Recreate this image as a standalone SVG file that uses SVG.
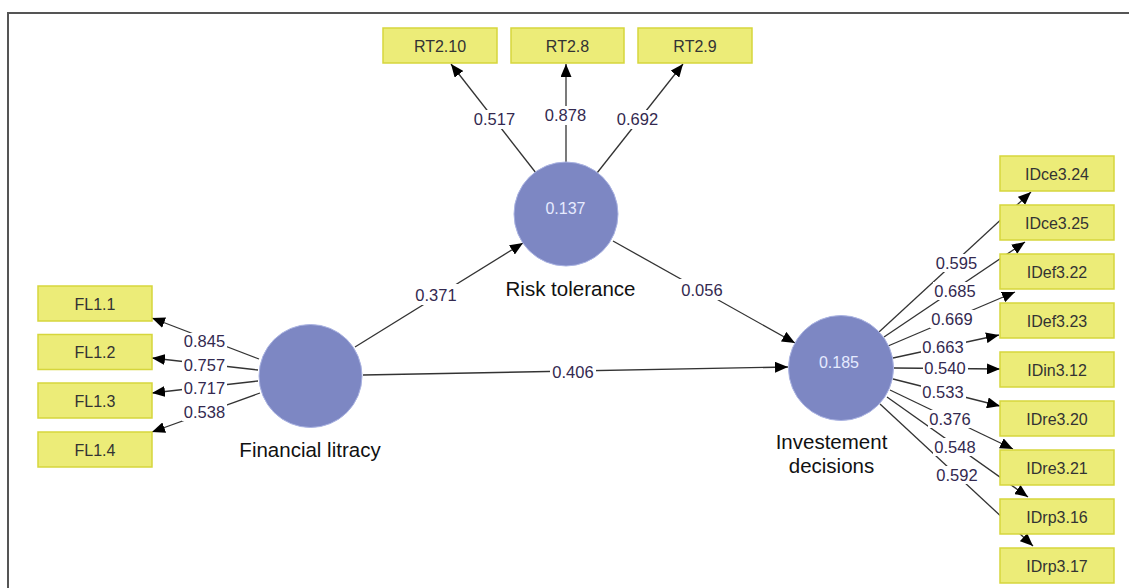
<svg xmlns="http://www.w3.org/2000/svg" width="1129" height="588" viewBox="0 0 1129 588">
<style>
.frame{fill:none;stroke:#555;stroke-width:2}
.box rect{fill:#ecec78;stroke:#d6d63c;stroke-width:1.5}
.box text{font-family:"Liberation Sans",Arial,sans-serif;font-size:16px;fill:#333;text-anchor:middle}
.lv circle{fill:#7d87c3;stroke:#aab3e2;stroke-width:1}
.val{font-family:"Liberation Sans",Arial,sans-serif;font-size:16px;fill:#e6ebff;text-anchor:middle}
.name{font-family:"Liberation Sans",Arial,sans-serif;font-size:20.5px;fill:#111;text-anchor:middle}
.conn line{stroke:#333;stroke-width:1.3;marker-end:url(#ah)}
.lbl rect{fill:#fff}
.lbl text{font-family:"Liberation Sans",Arial,sans-serif;font-size:16.5px;fill:#33294f;text-anchor:middle}
</style>
<defs>
<marker id="ah" markerUnits="userSpaceOnUse" markerWidth="13" markerHeight="11" refX="13" refY="5.5" orient="auto">
<path d="M0,0 L13,5.5 L0,11 Z" fill="#000"/>
</marker>
</defs>
<rect width="1129" height="588" fill="#fff"/>
<path class="frame" d="M8,588 V13 H1129"/>

<g id="connectors" class="conn">
<line x1="536" y1="173" x2="451" y2="64"/>
<line x1="566" y1="163" x2="566" y2="64"/>
<line x1="597" y1="173" x2="683" y2="64"/>
<line x1="259" y1="359" x2="152" y2="318"/>
<line x1="258" y1="370" x2="152" y2="358"/>
<line x1="258" y1="381" x2="152" y2="393"/>
<line x1="260" y1="393" x2="152" y2="432"/>
<line x1="355" y1="347" x2="523" y2="243"/>
<line x1="363" y1="375" x2="788" y2="367"/>
<line x1="613" y1="241" x2="795" y2="343"/>
<line x1="879" y1="332" x2="1031" y2="192"/>
<line x1="884" y1="337" x2="1025" y2="242"/>
<line x1="888" y1="346" x2="1015" y2="292"/>
<line x1="893" y1="358" x2="999" y2="335"/>
<line x1="894" y1="368" x2="1000" y2="369"/>
<line x1="893" y1="379" x2="1000" y2="406"/>
<line x1="890" y1="390" x2="1013" y2="449"/>
<line x1="887" y1="397" x2="1028" y2="497"/>
<line x1="880" y1="404" x2="1033" y2="546"/>
</g>

<g id="labels" class="lbl">
<rect x="472" y="110" width="45" height="19"/><text x="494.5" y="125">0.517</text>
<rect x="543" y="106" width="45" height="19"/><text x="565.5" y="121">0.878</text>
<rect x="615" y="110" width="45" height="19"/><text x="637.5" y="125">0.692</text>
<rect x="182" y="333" width="45" height="17"/><text x="204.5" y="347">0.845</text>
<rect x="182" y="357" width="45" height="17"/><text x="204.5" y="371">0.757</text>
<rect x="182" y="380" width="45" height="17"/><text x="204.5" y="394">0.717</text>
<rect x="182" y="404" width="45" height="17"/><text x="204.5" y="418">0.538</text>
<rect x="412" y="284" width="48" height="21"/><text x="436" y="301">0.371</text>
<rect x="550" y="363" width="46" height="18"/><text x="573" y="378">0.406</text>
<rect x="678" y="279" width="48" height="21"/><text x="702" y="296">0.056</text>
<rect x="934" y="254" width="45" height="18"/><text x="956.5" y="269">0.595</text>
<rect x="933" y="282" width="45" height="18"/><text x="955" y="297">0.685</text>
<rect x="930" y="310" width="45" height="18"/><text x="952" y="325">0.669</text>
<rect x="921" y="338" width="45" height="18"/><text x="943" y="353">0.663</text>
<rect x="923" y="360" width="45" height="17"/><text x="945" y="374">0.540</text>
<rect x="921" y="383" width="45" height="18"/><text x="943" y="398">0.533</text>
<rect x="928" y="410" width="45" height="18"/><text x="950" y="425">0.376</text>
<rect x="933" y="438" width="45" height="18"/><text x="955" y="453">0.548</text>
<rect x="935" y="466" width="45" height="18"/><text x="957" y="481">0.592</text>
</g>

<g id="RT2.10" class="box"><rect x="383" y="28" width="114" height="35"/><text x="440" y="51.5">RT2.10</text></g>
<g id="RT2.8" class="box"><rect x="511" y="28" width="113" height="35"/><text x="567.5" y="51.5">RT2.8</text></g>
<g id="RT2.9" class="box"><rect x="638" y="28" width="114" height="35"/><text x="695" y="51.5">RT2.9</text></g>

<g id="FL1.1" class="box"><rect x="38" y="286" width="114" height="35"/><text x="95" y="309.5">FL1.1</text></g>
<g id="FL1.2" class="box"><rect x="38" y="334.5" width="114" height="35"/><text x="95" y="358">FL1.2</text></g>
<g id="FL1.3" class="box"><rect x="38" y="383" width="114" height="35"/><text x="95" y="406.5">FL1.3</text></g>
<g id="FL1.4" class="box"><rect x="38" y="432" width="114" height="35"/><text x="95" y="455.5">FL1.4</text></g>

<g id="IDce3.24" class="box"><rect x="1000" y="156" width="114" height="35"/><text x="1057" y="179.5">IDce3.24</text></g>
<g id="IDce3.25" class="box"><rect x="1000" y="205" width="114" height="35"/><text x="1057" y="228.5">IDce3.25</text></g>
<g id="IDef3.22" class="box"><rect x="1000" y="254" width="114" height="35"/><text x="1057" y="277.5">IDef3.22</text></g>
<g id="IDef3.23" class="box"><rect x="1000" y="303" width="114" height="35"/><text x="1057" y="326.5">IDef3.23</text></g>
<g id="IDin3.12" class="box"><rect x="1000" y="352" width="114" height="35"/><text x="1057" y="375.5">IDin3.12</text></g>
<g id="IDre3.20" class="box"><rect x="1000" y="401" width="114" height="35"/><text x="1057" y="424.5">IDre3.20</text></g>
<g id="IDre3.21" class="box"><rect x="1000" y="450" width="114" height="35"/><text x="1057" y="473.5">IDre3.21</text></g>
<g id="IDrp3.16" class="box"><rect x="1000" y="499" width="114" height="35"/><text x="1057" y="522.5">IDrp3.16</text></g>
<g id="IDrp3.17" class="box"><rect x="1000" y="548" width="114" height="35"/><text x="1057" y="571.5">IDrp3.17</text></g>

<g id="RiskTolerance" class="lv">
<circle cx="566" cy="214" r="52"/>
<text class="val" x="565.5" y="214">0.137</text>
<text class="name" x="570.5" y="296">Risk tolerance</text>
</g>
<g id="FinancialLitracy" class="lv">
<circle cx="310.5" cy="376" r="51.5"/>
<text class="name" x="310" y="457">Financial litracy</text>
</g>
<g id="InvestementDecisions" class="lv">
<circle cx="841" cy="368" r="52.5"/>
<text class="val" x="839" y="368">0.185</text>
<text class="name" x="831.5" y="449">Investement</text>
<text class="name" x="831.5" y="473">decisions</text>
</g>
</svg>
